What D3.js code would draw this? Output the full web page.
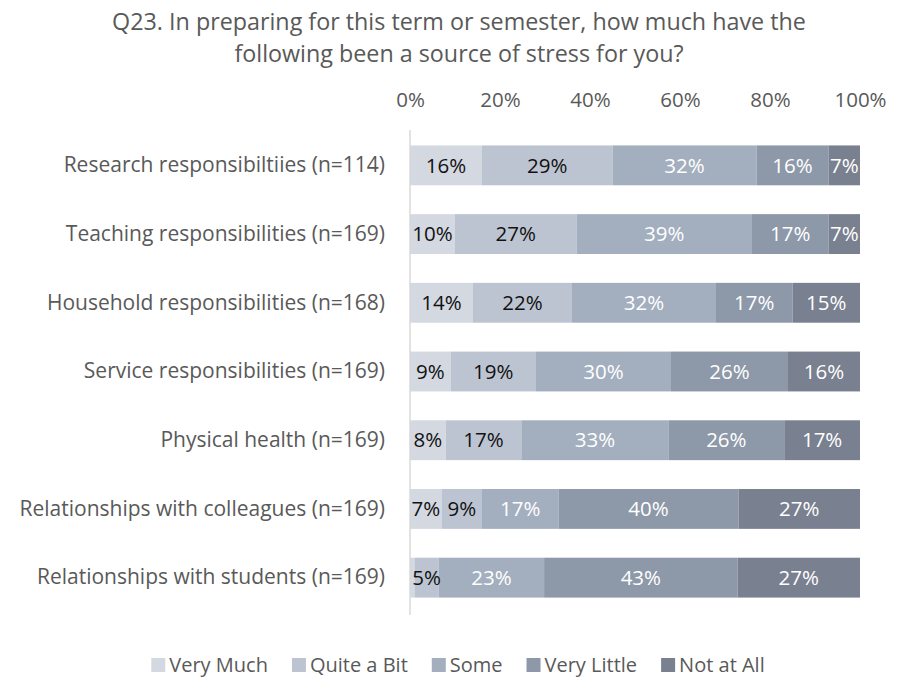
<!DOCTYPE html>
<meta charset="utf-8">
<style>
    body {
        margin: 0;
        background-color: #ffffff;
    }

    text {
        font-family: "Open Sans", sans-serif;
    }

    .axis path,
    .axis line {
        display: none;
    }
</style>

<body>
    <svg width="909" height="678"></svg>
    <script src="https://d3js.org/d3.v7.min.js"></script>
    <script>
        var categories = [
            "Research responsibiltiies (n=114)",
            "Teaching responsibilities (n=169)",
            "Household responsibilities (n=168)",
            "Service responsibilities (n=169)",
            "Physical health (n=169)",
            "Relationships with colleagues (n=169)",
            "Relationships with students (n=169)"
        ];
        var series = ["Very Much", "Quite a Bit", "Some", "Very Little", "Not at All"];

        var veryMuch = [16, 10, 14, 9, 8, 7, 1];
        var quiteABit = [29, 27, 22, 19, 17, 9, 5.4];
        var some = [32, 39, 32, 30, 33, 17, 23.4];
        var veryLittle = [16, 17, 17, 26, 26, 40, 43];
        var notAtAll = [7, 7, 15, 16, 17, 27, 27.2];

        var ticks = [0, 0.2, 0.4, 0.6, 0.8, 1];
        var colors = ["#d4d8e1", "#bdc4d1", "#a3aebe", "#8d98a8", "#79808f"];
        var labelColors = ["#111111", "#111111", "#ffffff", "#ffffff", "#ffffff"];

        var data = categories.map(function(c, i) {
            return {
                cat: c,
                "Very Much": veryMuch[i],
                "Quite a Bit": quiteABit[i],
                "Some": some[i],
                "Very Little": veryLittle[i],
                "Not at All": notAtAll[i]
            };
        });

        var svg = d3.select("svg"),
            left = 410,
            width = 450,
            fs = "20.5px";

        var x = d3.scaleLinear().domain([0, 1]).range([0, width]);
        var y = d3.scaleBand().domain(categories).range([131, 612]).paddingInner(0.42).paddingOuter(0.21);
        var color = d3.scaleOrdinal().domain(series).range(colors);

        // title
        var title = svg.append("text")
            .attr("text-anchor", "middle")
            .attr("fill", "#595959")
            .style("font-size", "23.3px");
        title.append("tspan").attr("x", 459).attr("y", 30)
            .text("Q23. In preparing for this term or semester, how much have the");
        title.append("tspan").attr("x", 459).attr("y", 62)
            .text("following been a source of stress for you?");

        var g = svg.append("g")
            .attr("transform", "translate(" + left + ",0)");

        g.append("g")
            .attr("class", "x axis")
            .attr("transform", "translate(0,107)")
            .call(d3.axisTop(x).tickValues(ticks).tickFormat(d3.format(".0%")).tickSize(0).tickPadding(0))
            .selectAll("text")
            .attr("fill", "#595959")
            .style("font-size", fs);

        var stack = d3.stack().keys(series).offset(d3.stackOffsetExpand);
        var layers = stack(data);

        var layer = g.selectAll(".layer")
            .data(layers)
            .enter().append("g")
            .attr("class", "layer")
            .attr("fill", function(d) { return color(d.key); });

        layer.selectAll("rect")
            .data(function(d) { return d; })
            .enter().append("rect")
            .attr("x", function(d) { return x(d[0]); })
            .attr("width", function(d) { return x(d[1]) - x(d[0]); })
            .attr("y", function(d) { return y(d.data.cat); })
            .attr("height", y.bandwidth());

        layers.forEach(function(l, si) {
            g.selectAll(".lbl" + si)
                .data(l.filter(function(d) { return d.data[l.key] >= 3; }))
                .enter().append("text")
                .attr("x", function(d) { return x((d[0] + d[1]) / 2); })
                .attr("y", function(d) { return y(d.data.cat) + y.bandwidth() / 2; })
                .attr("dy", "0.35em")
                .attr("text-anchor", "middle")
                .attr("fill", labelColors[si])
                .style("font-size", fs)
                .text(function(d) { return Math.round(d.data[l.key]) + "%"; });
        });

        // vertical axis line
        g.append("line")
            .attr("x1", 0).attr("x2", 0)
            .attr("y1", 130).attr("y2", 615)
            .attr("stroke", "#d9d9d9")
            .attr("stroke-width", 1.5);

        g.append("g")
            .attr("class", "y axis")
            .call(d3.axisLeft(y).tickSize(0).tickPadding(25))
            .selectAll("text")
            .attr("fill", "#595959")
            .style("font-size", "21px");

        // legend, laid out from measured text widths and centred
        var legend = svg.append("g").attr("transform", "translate(0,665)");
        var li = legend.selectAll("g")
            .data(series)
            .enter().append("g");
        li.append("rect")
            .attr("y", -7).attr("width", 14).attr("height", 14)
            .attr("fill", function(d) { return color(d); });
        li.append("text")
            .attr("x", 18).attr("dy", "0.35em")
            .attr("fill", "#595959")
            .style("font-size", "20px")
            .text(function(d) { return d; });

        var gap = 24, pos = [], cur = 0;
        li.each(function() {
            pos.push(cur);
            cur += 18 + d3.select(this).select("text").node().getComputedTextLength() + gap;
        });
        var start = 458 - (cur - gap) / 2;
        li.attr("transform", function(d, i) { return "translate(" + (start + pos[i]) + ",0)"; });
    </script>
</body>
